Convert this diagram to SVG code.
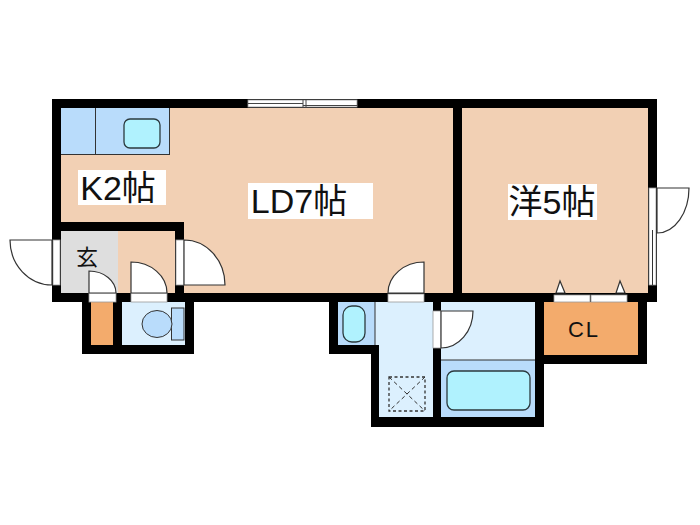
<svg xmlns="http://www.w3.org/2000/svg" width="700" height="525" viewBox="0 0 700 525">
<style>
.wall{fill:#000}
.room{fill:#f2d0b4}
.wet{fill:#dcf0fe}
.blue{fill:#b9dcfb}
.fix{fill:#b0f2fe;stroke:#2b3a3e;stroke-width:1.3}
.door{fill:#fff;stroke:#333;stroke-width:1.2}
.open{fill:#fff;stroke:#999;stroke-width:.8}
.line{fill:none;stroke:#333;stroke-width:1}
.lbl{font-family:"Liberation Sans","Noto Sans CJK JP",sans-serif;font-size:34px;fill:#111}
.bg{fill:#fff}
</style>
<rect width="700" height="525" fill="#fff"/>
<g id="floors">
<rect class="room" x="61" y="108" width="392" height="185"/>
<rect class="room" x="462" y="108" width="186" height="185"/>
<rect x="61" y="231" width="57" height="62" fill="#dedede"/>
<rect x="91" y="302" width="22" height="43" fill="#f3ab6c"/>
<rect class="wet" x="122" y="302" width="63" height="43"/>
<rect class="wet" x="375" y="302" width="58" height="115"/>
<rect class="wet" x="441" y="302" width="94" height="58"/>
<rect class="blue" x="441" y="360" width="94" height="57"/>
<path class="line" d="M441 360H535"/>
<rect class="blue" x="338" y="302" width="37" height="43"/>
<path class="line" d="M375 302V345"/>
<rect x="544" y="302" width="94" height="53" fill="#f3ab6c"/>
</g>
<g id="walls">
<path class="wall" fill-rule="evenodd" d="M52 99H657V302H647V364H544V427H371V354H329V302H194V354H82V302H52ZM61 108V222H184V293H453V108ZM462 108V293H648V108ZM61 231V293H175V231ZM91 302V345H113V302ZM122 302V345H185V302ZM338 302V345H371H379V417H433V302ZM441 302V417H535V302ZM544 302V355H638V302Z"/>
</g>
<g id="kitchen">
<rect class="blue" x="61" y="108" width="109" height="46"/>
<path class="line" d="M95.500 108V154M61 154.500H170M169.500 108V154"/>
<rect class="fix" x="124" y="119" width="36" height="29" rx="6"/>
</g>
<g id="window">
<rect class="open" x="248" y="100" width="109" height="7"/>
<path d="M248 103.500H303M303 105.500H357M303 100V108M306 100V108" stroke="#444" stroke-width="1" fill="none"/>
</g>
<g id="entry-door">
<rect class="open" x="53" y="240" width="7" height="45"/>
<path class="door" d="M52 240H10A42 45 0 0 0 52 285Z"/>
</g>
<g id="genkan-door">
<rect class="open" x="89" y="293" width="27" height="9"/>
<path class="door" d="M89 293V271A27 22 0 0 1 116 293Z"/>
</g>
<g id="wc-door">
<rect class="open" x="131" y="293" width="36" height="9"/>
<path class="door" d="M131 293V262A36 31 0 0 1 167 293Z"/>
</g>
<g id="inner-door">
<rect class="open" x="176" y="240" width="8" height="45"/>
<path class="door" d="M184 285V240A41 45 0 0 1 225 285Z"/>
</g>
<g id="ld-door">
<rect class="open" x="388" y="294" width="36" height="8"/>
<path class="door" d="M424 293V262A36 31 0 0 0 388 293Z"/>
</g>
<g id="bath-door">
<rect class="open" x="433" y="311" width="8" height="37"/>
<path class="door" d="M441 311H473A32 37 0 0 1 441 348Z"/>
</g>
<g id="balcony-door">
<rect class="open" x="649" y="188" width="7" height="97"/>
<path class="line" d="M652.500 230V285"/>
<path class="door" d="M657 188H689A32 45 0 0 1 657 233Z"/>
</g>
<g id="toilet">
<rect class="blue" x="171.500" y="308" width="12.500" height="32" stroke="#333" stroke-width="1"/>
<ellipse class="blue" cx="157" cy="324" rx="15" ry="13.500" stroke="#333" stroke-width="1"/>
</g>
<g id="basin">
<rect class="fix" x="343" y="306" width="22" height="36" rx="9"/>
</g>
<g id="washer">
<rect x="389" y="377" width="36" height="34" fill="none" stroke="#333" stroke-width="1.300" stroke-dasharray="3 2.500"/>
<path d="M389 377L425 411M425 377L389 411" fill="none" stroke="#333" stroke-width="1" stroke-dasharray="4 3"/>
</g>
<g id="bathtub">
<rect class="fix" x="447" y="371" width="83" height="39" rx="7"/>
</g>
<g id="closet">
<rect class="open" x="554" y="295" width="36" height="7"/>
<rect class="open" x="591" y="295" width="36" height="7"/>
<path class="door" d="M556 293L560 281L565 293ZM616 293L620 281L625 293Z" stroke-width=".8" fill="#eee"/>
<text x="584" y="337" text-anchor="middle" letter-spacing="2" style="font-family:'Liberation Sans',sans-serif;font-size:22px;fill:#111">CL</text>
</g>
<g id="labels">
<rect class="bg" x="78" y="170" width="88" height="35"/>
<text class="lbl" x="118" y="200" text-anchor="middle">K2帖</text>
<rect class="bg" x="248" y="183" width="125" height="36"/>
<text class="lbl" x="299" y="213" text-anchor="middle">LD7帖</text>
<rect class="bg" x="508" y="184" width="89" height="36"/>
<text class="lbl" x="552" y="214" text-anchor="middle">洋5帖</text>
<text x="87" y="265" text-anchor="middle" style="font-family:'Noto Sans CJK JP',sans-serif;font-size:22px;fill:#111">玄</text>
</g>
</svg>
